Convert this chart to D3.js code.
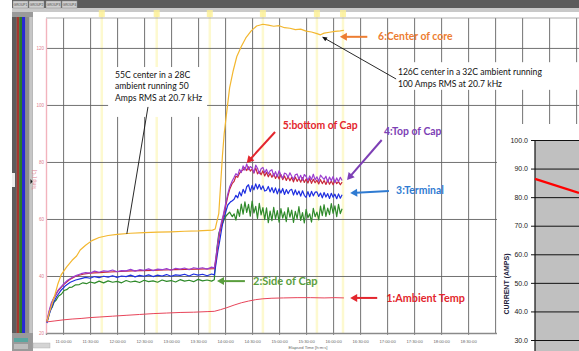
<!DOCTYPE html>
<html>
<head>
<meta charset="utf-8">
<script src="https://cdn.jsdelivr.net/npm/d3@7"></script>
<style>
  body { margin: 0; background: #fff; }
  svg { display: block; }
</style>
</head>
<body>
<svg id="chart" width="579" height="351"></svg>
<script>
// times are minutes of the day, temperatures in deg C
const xTicks = [660, 690, 720, 750, 780, 810, 840, 870, 900, 930, 960, 990, 1020, 1050, 1080, 1110, 1140, 1170, 1200, 1230];
const yTicks = [20, 40, 60, 80, 100, 120];
const eventTimes = [703, 764, 823, 882, 942, 971];

const ambient = [[642,23.9],[650,24.2],[660,24.6],[670,24.9],[680,25.1],[690,25.4],[700,25.6],[715,25.9],[730,26.2],[745,26.5],[760,26.8],[775,27.0],[790,27.2],[805,27.3],[820,27.5],[828,27.6],[835,28.2],[842,28.9],[850,29.8],[858,30.6],[866,31.2],[874,31.7],[882,32.0],[892,32.2],[905,32.3],[920,32.4],[935,32.4],[950,32.3],[962,32.4],[972,32.3]];

const core = [[642,24.0],[645,27.5],[648,30.5],[651,33.5],[654,37.0],[658,40.5],[664,43.2],[670,45.5],[675,47.0],[679,49.1],[685,50.8],[692,52.4],[700,53.5],[710,54.2],[720,54.6],[735,55.0],[750,55.2],[765,55.4],[780,55.5],[795,55.7],[810,55.8],[826,56.1],[829,56.5],[833,62.0],[835,72.0],[837,82.0],[839,90.0],[842,98.0],[845,106.0],[849,112.0],[853,117.0],[858,120.5],[863,123.5],[869,126.0],[875,127.7],[882,128.3],[888,128.0],[894,127.6],[900,127.8],[906,127.1],[912,126.9],[918,126.4],[924,126.6],[930,125.9],[936,125.6],[942,125.0],[946,124.6],[950,125.2],[956,125.5],[962,125.8],[968,126.0],[972,126.2]];

// warm-up and step portions of the cap / terminal probes
const capTopHead = [[642,23.9],[644,27.2],[647,30.6],[651,33.1],[655,35.2],[660,37.0],[665,38.5],[670,39.5],[675,40.2],[680,40.8],[685,41.2],[690,41.0],[695,41.7],[700,41.3],[705,41.8],[710,41.6],[715,42.1],[720,41.5],[725,41.9],[730,41.8],[735,42.3],[740,41.7],[745,42.2],[750,42.0],[755,42.5],[760,41.9],[765,42.4],[770,42.2],[775,42.6],[780,42.0],[785,42.7],[790,42.4],[795,42.8],[800,42.2],[805,42.9],[810,42.6],[815,42.9],[820,42.4],[825,43.1],[828,42.8],[830,47.0],[832,52.0],[834,56.1],[836,59.0],[838,61.5],[841,66.0],[843,68.8],[845,71.2],[848,73.4]];
const capBottomHead = [[642,23.9],[645,28.0],[649,31.8],[654,34.6],[660,36.8],[667,38.7],[674,39.9],[682,40.6],[690,41.0],[700,41.2],[712,41.4],[724,41.6],[736,41.8],[748,41.9],[760,42.0],[772,42.1],[784,42.2],[796,42.3],[808,42.4],[820,42.5],[828,42.6],[830,46.0],[832,51.0],[834,55.0],[836,58.2],[838,60.8],[841,65.0],[843,67.9],[845,70.3],[848,72.5]];
const terminalHead = [[642,23.5],[645,27.0],[649,30.4],[653,32.9],[658,35.1],[663,36.7],[668,37.8],[674,38.6],[680,39.1],[685,39.5],[690,39.2],[695,39.8],[700,39.4],[705,39.9],[710,39.6],[715,40.1],[720,39.5],[725,40.0],[730,39.8],[735,40.3],[740,39.7],[745,40.2],[750,39.9],[755,40.4],[760,39.8],[765,40.3],[770,40.0],[775,40.5],[780,39.9],[785,40.4],[790,40.2],[795,40.6],[800,40.0],[805,40.7],[810,40.3],[815,40.6],[820,40.1],[825,40.7],[828,40.4],[830,44.6],[832,48.8],[834,52.3],[836,56.2],[838,59.6],[841,62.8],[843,64.9],[846,66.0],[848,66.4]];
const capSideHead = [[642,23.9],[644,26.0],[646,28.2],[648,29.1],[650,30.9],[652,31.4],[655,33.0],[658,33.6],[661,34.9],[664,35.2],[667,36.0],[670,36.1],[674,36.9],[678,37.0],[682,37.6],[686,37.3],[690,37.9],[695,37.5],[700,38.2],[705,37.6],[710,38.3],[715,37.8],[720,38.1],[725,37.6],[730,38.4],[735,37.9],[740,38.2],[745,37.7],[750,38.5],[755,38.0],[760,38.3],[765,37.8],[770,38.6],[775,38.1],[780,38.4],[785,37.9],[790,38.7],[795,38.2],[800,38.5],[805,38.0],[810,38.8],[815,38.3],[820,38.6],[825,38.2],[828,38.7],[829,43.0],[831,50.0],[833,55.0],[836,57.6],[838,59.0],[840,60.6],[842,61.4],[845,62.4],[848,60.8]];

// noisy high-current portion, sampled every 2 minutes
const noisyTimes = [850,852,854,856,858,860,862,864,866,868,870,872,874,876,878,880,882,884,886,888,890,892,894,896,898,900,902,904,906,908,910,912,914,916,918,920,922,924,926,928,930,932,934,936,938,940,942,944,946,948,950,952,954,956,958,960,962,964,966,968,970];
const capTopNoisy = [74.6,75.9,75.2,77.4,76.3,78.6,77.1,79.3,77.3,78.4,77.9,76.2,78.9,77.8,75.9,77.6,78.1,76.2,77.4,75.8,76.9,77.3,75.0,76.6,74.8,76.9,75.4,74.3,76.1,75.8,74.6,76.2,75.0,73.9,75.5,75.8,74.0,75.3,73.6,75.6,74.9,73.5,75.1,73.8,75.7,73.7,74.8,73.2,75.4,74.6,73.9,75.0,72.9,74.7,73.4,74.9,72.8,74.4,73.1,74.6,73.5];
const capBottomNoisy = [73.2,75.0,74.6,76.0,76.9,77.2,78.1,77.0,78.3,76.8,77.5,76.1,77.9,75.8,76.7,75.5,76.9,75.1,76.4,74.8,76.0,74.6,75.9,74.2,75.4,74.0,75.6,73.8,75.1,73.5,74.9,73.4,74.6,73.0,74.7,73.2,74.3,72.9,74.5,72.8,74.0,72.6,74.2,72.5,73.9,72.7,73.6,72.3,73.8,72.4,73.5,72.1,73.7,72.2,73.3,72.0,73.6,72.4,73.1,72.0,72.9];
const terminalNoisy = [66.9,68.3,67.4,69.5,68.1,70.4,69.0,71.3,72.0,69.6,71.8,70.2,72.3,70.5,72.1,70.3,71.6,69.8,70.1,71.4,69.5,71.0,69.2,70.9,68.8,70.6,69.1,70.7,68.6,70.3,68.9,70.1,70.4,68.4,70.2,68.5,69.8,68.0,69.9,68.3,67.6,69.6,67.8,69.7,68.1,69.4,69.5,67.9,69.1,67.4,69.3,67.7,68.9,67.2,69.0,67.6,68.7,67.1,68.8,67.3,68.5];
const capSideNoisy = [61.8,59.6,63.4,60.9,65.2,61.7,66.0,62.3,65.1,61.0,66.3,62.1,64.4,60.2,65.5,61.4,64.0,59.8,63.9,58.7,62.8,59.4,64.1,60.0,62.9,58.9,63.6,60.3,62.5,59.1,64.0,60.6,63.1,58.8,62.7,60.1,64.3,59.5,62.2,58.6,63.4,60.4,61.8,58.9,63.7,60.8,62.4,59.7,64.5,61.2,65.0,60.9,63.8,61.5,65.4,62.0,64.6,60.8,65.1,61.9,63.6];

// inset current chart
const insetTicks = [30, 40, 50, 60, 70, 80, 90, 100];
const insetPos = [0, 1];
const insetCurrent = [86.4, 81.5];

const withNoise = (head, vals) => head.concat(noisyTimes.map((t, i) => [t, vals[i]]));

const series = [
  {name: 'ambient', color: '#e8455a', width: 1, pts: ambient},
  {name: 'side', color: '#2f8a2a', width: 1.2, pts: withNoise(capSideHead, capSideNoisy)},
  {name: 'terminal', color: '#1f2fe0', width: 1.2, pts: withNoise(terminalHead, terminalNoisy)},
  {name: 'bottom', color: '#c8283a', width: 1.2, pts: withNoise(capBottomHead, capBottomNoisy)},
  {name: 'top', color: '#9b3fd0', width: 1.2, pts: withNoise(capTopHead, capTopNoisy)},
  {name: 'core', color: '#f3b72f', width: 1.2, pts: core}
];

const svg = d3.select('#chart');
const W = 579, H = 351;
const plot = {left: 46, right: 579, top: 18, bottom: 333};
const insetLeft = 497, insetTop = 124;

const x = d3.scaleLinear().domain([641, 1233.2]).range([plot.left, plot.right]);
const y = d3.scaleLinear().domain([20, 130.5]).range([plot.bottom, plot.top]);

const fmtTime = m => `${String(Math.floor(m / 60)).padStart(2, '0')}:${String(m % 60).padStart(2, '0')}:00`;

svg.append('rect').attr('width', W).attr('height', H).attr('fill', '#fff');

// window chrome
svg.append('rect').attr('x', 12).attr('y', 0).attr('width', W - 12).attr('height', 8).attr('fill', '#5b5b5b');
svg.append('rect').attr('x', 12).attr('y', 8).attr('width', W - 12).attr('height', 4).attr('fill', '#c9c9c9');
const tabs = svg.append('g');
[13, 29, 46, 62].forEach((tx, i) => {
  tabs.append('rect').attr('x', tx).attr('y', 1).attr('width', 15).attr('height', 7)
    .attr('fill', '#cfcfcf').attr('stroke', '#8a8a8a').attr('stroke-width', 0.5);
  tabs.append('text').attr('x', tx + 7.5).attr('y', 6).attr('text-anchor', 'middle')
    .attr('font-size', 3.2).attr('font-family', 'Liberation Sans, sans-serif').attr('fill', '#444')
    .text('GROUP' + (i + 1));
});

const side = svg.append('g');
side.append('rect').attr('x', 12).attr('y', 12).attr('width', 21).attr('height', H - 12).attr('fill', '#9a9a9a');
[[12, 4.7, '#5c5c5c'], [16.7, 2.6, '#a5382e'], [19.3, 2.7, '#2b7a2b'], [22, 3.3, '#2828d2'], [25.3, 4, '#8c8c8c'], [29.3, 3.4, '#c6c6c6']]
  .forEach(([bx, bw, c]) => {
    side.append('rect').attr('x', bx).attr('y', 17).attr('width', bw).attr('height', 316).attr('fill', c);
  });
side.append('rect').attr('x', 12).attr('y', 173).attr('width', 3).attr('height', 14).attr('fill', '#eee');
side.append('rect').attr('x', 14).attr('y', 338).attr('width', 14).attr('height', 4).attr('fill', '#5aa6a0');
side.append('rect').attr('x', 14).attr('y', 344).attr('width', 14).attr('height', 5).attr('fill', '#bdbdbd');
svg.append('rect').attr('x', 33).attr('y', 343).attr('width', 17).attr('height', 5).attr('fill', '#d4d4d4').attr('stroke', '#aaa').attr('stroke-width', 0.4);
svg.append('path').attr('d', 'M30.5,179 L32.5,181.5 L30.5,184 Z').attr('fill', '#111');

// event markers
const ev = svg.append('g');
ev.selectAll('line').data(eventTimes).join('line')
  .attr('x1', d => x(d)).attr('x2', d => x(d)).attr('y1', 12).attr('y2', plot.bottom)
  .attr('stroke', '#fdf9cf').attr('stroke-width', 2.5);
ev.selectAll('rect').data(eventTimes).join('rect')
  .attr('x', d => x(d) - 3).attr('y', 10).attr('width', 6).attr('height', 7)
  .attr('fill', '#fcf096').attr('opacity', 0.8);

// grid
const gx = svg.append('g').attr('transform', `translate(0,${plot.bottom})`)
  .call(d3.axisBottom(x).tickValues(xTicks).tickSize(-(plot.bottom - plot.top)).tickFormat(''));
gx.select('.domain').remove();
gx.selectAll('line').attr('stroke', '#626262').attr('stroke-width', 0.9);

const gy = svg.append('g').attr('transform', `translate(${plot.left},0)`)
  .call(d3.axisLeft(y).tickValues(yTicks.slice(1)).tickSize(-(plot.right - plot.left)).tickFormat(''));
gy.select('.domain').remove();
gy.selectAll('line').attr('stroke', '#626262').attr('stroke-width', 0.9);

svg.append('line').attr('x1', plot.left).attr('x2', plot.right).attr('y1', plot.top).attr('y2', plot.top)
  .attr('stroke', '#9a9a9a').attr('stroke-width', 0.8);

// axes (labels only where the inset does not cover them)
const ax = svg.append('g').attr('transform', `translate(0,${plot.bottom})`)
  .call(d3.axisBottom(x).tickValues(xTicks.filter(t => x(t) < insetLeft - 4)).tickSize(2).tickPadding(5).tickFormat(fmtTime));
ax.select('.domain').attr('stroke', '#8a8a8a').attr('stroke-width', 1.4);
ax.selectAll('line').attr('stroke', '#888');
ax.selectAll('text').attr('font-size', 4.2).attr('fill', '#666').attr('font-family', 'Liberation Sans, sans-serif');
svg.append('text').attr('x', 308).attr('y', 348.5).attr('text-anchor', 'middle')
  .attr('font-size', 4.2).attr('fill', '#666').attr('font-family', 'Liberation Sans, sans-serif')
  .text('Elapsed Time [h:m:s]');

const ay = svg.append('g').attr('transform', `translate(${plot.left},0)`)
  .call(d3.axisLeft(y).tickValues(yTicks).tickSize(0).tickPadding(2));
ay.select('.domain').attr('stroke', '#f2b3bd').attr('stroke-width', 1.4);
ay.selectAll('text').attr('font-size', 4.5).attr('fill', '#e0808f').attr('font-family', 'Liberation Sans, sans-serif');
svg.append('text').attr('transform', 'translate(36,180) rotate(-90)').attr('text-anchor', 'middle')
  .attr('font-size', 4.5).attr('fill', '#e0808f').attr('font-family', 'Liberation Sans, sans-serif')
  .text('Temp [°C]');

// traces
svg.append('clipPath').attr('id', 'plotclip').append('rect')
  .attr('x', plot.left).attr('y', plot.top).attr('width', plot.right - plot.left).attr('height', plot.bottom - plot.top);
const line = d3.line().x(d => x(d[0])).y(d => y(d[1]));
svg.append('g').attr('clip-path', 'url(#plotclip)')
  .selectAll('path').data(series).join('path')
  .attr('d', d => line(d.pts)).attr('fill', 'none')
  .attr('stroke', d => d.color).attr('stroke-width', d => d.width).attr('stroke-linejoin', 'round');

// annotations
const font = 'Lato, Liberation Sans, sans-serif';
const note = svg.append('g');

function arrow(g, p1, p2, color, w, head, half) {
  const dx = p2[0] - p1[0], dy = p2[1] - p1[1];
  const len = Math.hypot(dx, dy), ux = dx / len, uy = dy / len, nx = -uy, ny = ux;
  const bx = p2[0] - ux * head, by = p2[1] - uy * head;
  g.append('line').attr('x1', p1[0]).attr('y1', p1[1]).attr('x2', bx + ux).attr('y2', by + uy)
    .attr('stroke', color).attr('stroke-width', w);
  if (head > 0) {
    g.append('path').attr('d', `M${p2[0]},${p2[1]} L${bx + nx * half},${by + ny * half} L${bx - nx * half},${by - ny * half} Z`)
      .attr('fill', color);
  }
}
const P = (t, v) => [x(t), y(v)];

const boxes = [
  {t0: 710, t1: 820, v0: 113.3, v1: 95.8, tx: 717.7, lines: [[109.5, '55C center in a 28C'], [105.5, 'ambient running 50'], [101.5, 'Amps RMS at 20.7 kHz']]},
  {t0: 1025, t1: 1233, v0: 115.0, v1: 105.3, tx: 1032, lines: [[110.5, '126C center in a 32C ambient running'], [106.3, '100 Amps RMS at 20.7 kHz']]}
];
boxes.forEach(b => {
  note.append('rect').attr('x', x(b.t0)).attr('y', y(b.v0)).attr('width', x(b.t1) - x(b.t0)).attr('height', y(b.v1) - y(b.v0))
    .attr('fill', '#fff');
  b.lines.forEach(([v, s]) => {
    note.append('text').attr('x', x(b.tx)).attr('y', y(v)).attr('font-size', 8.6).attr('font-family', font)
      .attr('fill', '#111').text(s);
  });
});
arrow(note, P(754.3, 99.3), P(731, 55.1), '#111', 0.9, 0, 0);
arrow(note, P(1030, 109.1), P(947.7, 123.9), '#111', 0.9, 5, 2.2);

const labels = [
  {text: '6:Center of core', t: 1010, v: 123.9, color: '#ed7d31', size: 10.4, from: [998, 123.9], to: [967.5, 123.9]},
  {text: '5:bottom of Cap', t: 904, v: 93, color: '#e3262d', size: 10.4, from: [895.5, 90.5], to: [864, 79.6]},
  {text: '4:Top of Cap', t: 1016.5, v: 90.9, color: '#7d3fb5', size: 10.4, from: [1014, 87.7], to: [975.5, 73.7]},
  {text: '3:Terminal', t: 1030, v: 70.2, color: '#2f7bd2', size: 10.4, from: [1022, 69.8], to: [979, 69.1]},
  {text: '2:Side of Cap', t: 871, v: 38.2, color: '#5a9e3e', size: 11, from: [862, 38.2], to: [831, 38.2]},
  {text: '1:Ambient Temp', t: 1019, v: 32.3, color: '#e3262d', size: 10.8, from: [1009, 32.3], to: [979, 32.3]}
];
labels.forEach(l => {
  note.append('text').attr('x', x(l.t)).attr('y', y(l.v)).attr('dy', '0.35em')
    .attr('font-size', l.size).attr('font-weight', 'bold').attr('font-family', font)
    .attr('fill', l.color).text(l.text);
  arrow(note, P(...l.from), P(...l.to), l.color, 2, 7, 4);
});

// inset current chart (overlaps lower right)
const inset = svg.append('g');
const ix = d3.scaleLinear().domain([0, 1]).range([535, 579]);
const iy = d3.scaleLinear().domain([30, 100]).range([340, 140]);
inset.append('rect').attr('x', insetLeft).attr('y', insetTop).attr('width', W - insetLeft).attr('height', H - insetTop).attr('fill', '#fff');
inset.append('rect').attr('x', 535).attr('y', iy(100)).attr('width', W - 535).attr('height', H - iy(100)).attr('fill', '#c0c0c0');
const ig = inset.append('g').attr('transform', 'translate(535,0)')
  .call(d3.axisLeft(iy).tickValues(insetTicks).tickSize(-(W - 535)).tickFormat(''));
ig.select('.domain').remove();
ig.selectAll('line').attr('stroke', '#111').attr('stroke-width', 1);
const ia = inset.append('g').attr('transform', 'translate(535,0)')
  .call(d3.axisLeft(iy).tickValues(insetTicks).tickSize(4).tickPadding(3).tickFormat(d3.format('.1f')));
ia.select('.domain').attr('d', `M0,${iy(100)}V${H}`).attr('stroke', '#111').attr('stroke-width', 1.2);
ia.selectAll('line').attr('stroke', '#111');
ia.selectAll('text').attr('font-size', 7).attr('fill', '#222').attr('font-family', 'Liberation Sans, sans-serif');
inset.append('text').attr('transform', 'translate(507,284) rotate(-90)').attr('text-anchor', 'middle')
  .attr('dy', '0.35em').attr('font-size', 7).attr('font-weight', 'bold').attr('fill', '#20203a')
  .attr('font-family', 'Liberation Sans, sans-serif').text('CURRENT (AMPS)');
inset.append('path').datum(insetPos.map((p, i) => [p, insetCurrent[i]]))
  .attr('d', d3.line().x(d => ix(d[0])).y(d => iy(d[1])))
  .attr('fill', 'none').attr('stroke', '#ff0000').attr('stroke-width', 2.2);
</script>
</body>
</html>
